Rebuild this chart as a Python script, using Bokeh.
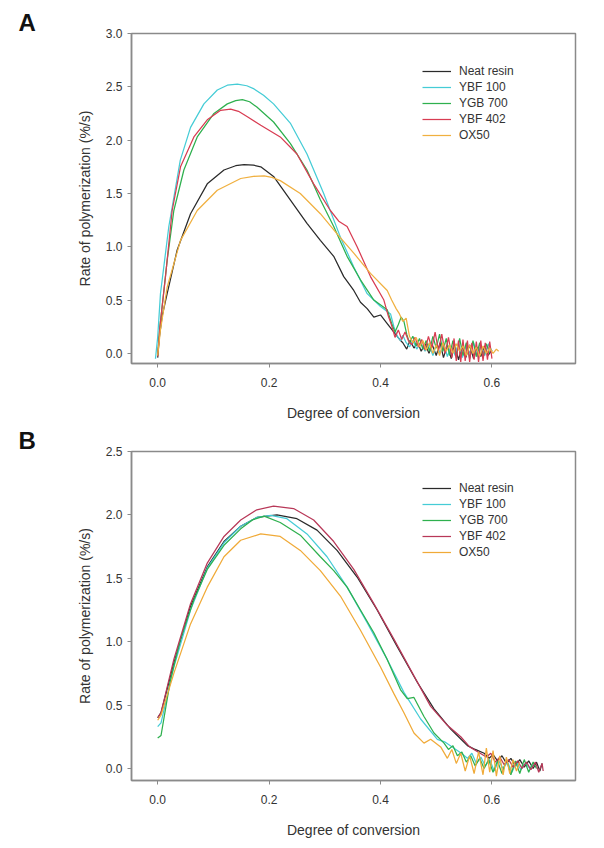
from bokeh.plotting import figure
from bokeh.layouts import column
from bokeh.models import FixedTicker, Legend, LegendItem, Title, NumeralTickFormatter, Range1d
from bokeh.embed import file_html
from bokeh.resources import INLINE

series_names = ["Neat resin", "YBF 100", "YGB 700", "YBF 402", "OX50"]
x_ticks = [0.0, 0.2, 0.4, 0.6]
y_ticks_a = [0.0, 0.5, 1.0, 1.5, 2.0, 2.5, 3.0]
y_ticks_b = [0.0, 0.5, 1.0, 1.5, 2.0, 2.5]

# ---------------- Panel A ----------------
a_neat_x = [0.0, 0.003, 0.008, 0.017, 0.035, 0.059, 0.089, 0.119, 0.14, 0.155, 0.172, 0.185, 0.208, 0.238, 0.268,
            0.292, 0.316, 0.334, 0.352, 0.364, 0.376, 0.388, 0.40, 0.412, 0.424, 0.436,
            0.44, 0.447, 0.453, 0.46, 0.467, 0.473, 0.48, 0.487, 0.493, 0.5, 0.507, 0.513, 0.52, 0.527, 0.533,
            0.54, 0.547, 0.553, 0.56, 0.567, 0.573, 0.58, 0.587, 0.593, 0.6]
a_neat_y = [-0.04, 0.15, 0.35, 0.56, 0.97, 1.31, 1.59, 1.72, 1.76, 1.77, 1.765, 1.75, 1.66, 1.44, 1.22,
            1.06, 0.91, 0.72, 0.59, 0.48, 0.42, 0.34, 0.36, 0.28, 0.20, 0.12,
            0.10, 0.04, 0.12, 0.05, 0.10, 0.02, 0.09, 0.0, 0.08, -0.02, 0.10, -0.04, 0.08, -0.05, 0.09,
            -0.06, 0.07, -0.04, 0.08, -0.05, 0.06, -0.03, 0.07, -0.02, 0.03]

a_ybf100_x = [-0.004, 0.0, 0.005, 0.02, 0.0405, 0.059, 0.083, 0.107, 0.125, 0.143, 0.16, 0.173, 0.19, 0.208, 0.238,
              0.268, 0.298, 0.328, 0.352, 0.376, 0.40, 0.418, 0.424, 0.43, 0.436, 0.44, 0.446, 0.452, 0.458,
              0.465, 0.472, 0.48, 0.487, 0.494, 0.5, 0.507, 0.514, 0.52, 0.527, 0.534, 0.54, 0.547, 0.554,
              0.56, 0.567, 0.574, 0.58, 0.587, 0.594, 0.6]
a_ybf100_y = [-0.05, 0.15, 0.56, 1.19, 1.81, 2.12, 2.34, 2.47, 2.515, 2.525, 2.51, 2.48, 2.42, 2.34, 2.16,
              1.87, 1.50, 1.09, 0.81, 0.56, 0.44, 0.37, 0.25, 0.16, 0.12, 0.17, 0.10, 0.06, 0.12,
              0.04, 0.10, 0.02, 0.09, -0.02, 0.08, 0.0, 0.09, -0.03, 0.07, -0.02, 0.10, -0.04, 0.08,
              0.0, 0.10, -0.03, 0.08, -0.02, 0.09, 0.02]

a_ygb700_x = [0.0, 0.004, 0.017, 0.029, 0.047, 0.071, 0.101, 0.125, 0.14, 0.152, 0.165, 0.178, 0.208, 0.238,
              0.268, 0.292, 0.316, 0.34, 0.364, 0.388, 0.412, 0.42, 0.426, 0.432, 0.437, 0.442, 0.447, 0.452,
              0.458, 0.464, 0.47, 0.476, 0.482, 0.488, 0.494, 0.5, 0.506, 0.512, 0.518, 0.524, 0.53, 0.536,
              0.542, 0.548, 0.554, 0.56, 0.566, 0.572, 0.578, 0.584, 0.59, 0.596]
a_ygb700_y = [-0.02, 0.25, 0.87, 1.34, 1.72, 2.03, 2.25, 2.34, 2.37, 2.38, 2.36, 2.31, 2.17, 1.97,
              1.72, 1.44, 1.19, 0.91, 0.69, 0.50, 0.41, 0.28, 0.20, 0.27, 0.34, 0.30, 0.18, 0.10,
              0.16, 0.07, 0.14, 0.04, 0.12, 0.02, 0.16, 0.05, 0.18, 0.02, 0.14, -0.02, 0.12, -0.04,
              0.14, -0.02, 0.10, -0.05, 0.12, -0.03, 0.10, -0.04, 0.09, 0.0]

a_ybf402_x = [0.0, 0.004, 0.014, 0.026, 0.041, 0.065, 0.089, 0.113, 0.131, 0.145, 0.161, 0.185, 0.22, 0.25,
              0.28, 0.31, 0.325, 0.34, 0.358, 0.382, 0.406, 0.414, 0.42, 0.426, 0.432, 0.438, 0.444, 0.45,
              0.456, 0.462, 0.468, 0.474, 0.48, 0.486, 0.492, 0.498, 0.504, 0.51, 0.516, 0.522, 0.528,
              0.532, 0.536, 0.54, 0.544, 0.548, 0.552, 0.556, 0.56, 0.564, 0.568, 0.572, 0.576, 0.58,
              0.584, 0.588, 0.592, 0.596, 0.6]
a_ybf402_y = [-0.03, 0.25, 0.72, 1.34, 1.75, 2.03, 2.19, 2.28, 2.29, 2.27, 2.22, 2.14, 2.03, 1.87,
              1.59, 1.34, 1.24, 1.19, 1.0, 0.72, 0.50, 0.35, 0.26, 0.15, 0.22, 0.13, 0.20, 0.12,
              0.08, 0.15, 0.06, 0.13, 0.03, 0.16, 0.05, 0.20, 0.02, 0.18, 0.0, 0.15, -0.04,
              0.14, -0.07, 0.12, -0.08, 0.13, -0.07, 0.12, -0.08, 0.10, -0.06, 0.11, -0.08, 0.12,
              -0.07, 0.10, -0.06, 0.11, -0.05]

a_ox50_x = [0.0, 0.005, 0.017, 0.041, 0.071, 0.107, 0.149, 0.172, 0.191, 0.205, 0.22, 0.256, 0.292, 0.322,
            0.352, 0.382, 0.412, 0.42, 0.428, 0.434, 0.44, 0.446, 0.452, 0.458, 0.464, 0.47, 0.476, 0.482,
            0.488, 0.494, 0.5, 0.506, 0.512, 0.518, 0.524, 0.53, 0.536, 0.542, 0.548, 0.554, 0.56, 0.566,
            0.572, 0.578, 0.584, 0.59, 0.596, 0.602, 0.608, 0.612]
a_ox50_y = [-0.02, 0.22, 0.62, 1.06, 1.34, 1.53, 1.64, 1.66, 1.665, 1.65, 1.62, 1.50, 1.31, 1.12,
            0.94, 0.75, 0.59, 0.50, 0.42, 0.37, 0.30, 0.33, 0.16, 0.10, 0.15, 0.06, 0.12, 0.03,
            0.10, 0.0, 0.08, -0.02, 0.10, 0.02, 0.08, 0.0, 0.09, 0.02, 0.07, -0.02, 0.08, 0.0,
            0.06, -0.03, 0.07, 0.0, 0.05, 0.0, 0.04, 0.02]

# ---------------- Panel B ----------------
b_neat_x = [0.0, 0.006, 0.029, 0.059, 0.089, 0.119, 0.149, 0.178, 0.214, 0.25, 0.286, 0.322, 0.358, 0.394,
            0.43, 0.466, 0.496, 0.526, 0.54, 0.556, 0.57, 0.586, 0.595, 0.602, 0.61, 0.618, 0.626, 0.634,
            0.642, 0.65, 0.658, 0.666, 0.674, 0.68, 0.686, 0.69]
b_neat_y = [0.40, 0.44, 0.83, 1.28, 1.59, 1.79, 1.91, 1.98, 2.0, 1.97, 1.88, 1.72, 1.51, 1.25,
            0.96, 0.68, 0.47, 0.31, 0.25, 0.18, 0.15, 0.12, 0.08, 0.11, 0.06, 0.10, 0.04, 0.08,
            0.02, 0.07, 0.01, 0.06, 0.0, 0.05, -0.02, 0.04]

b_ybf100_x = [0.0, 0.006, 0.029, 0.059, 0.089, 0.119, 0.149, 0.178, 0.203, 0.232, 0.268, 0.304, 0.34, 0.376,
              0.412, 0.442, 0.472, 0.502, 0.515, 0.532, 0.545, 0.556, 0.564, 0.572, 0.58, 0.588, 0.596,
              0.604, 0.612, 0.62, 0.628, 0.636, 0.644, 0.652, 0.66, 0.668, 0.674]
b_ybf100_y = [0.33, 0.36, 0.80, 1.25, 1.58, 1.78, 1.91, 1.98, 1.996, 1.97, 1.85, 1.67, 1.43, 1.15,
              0.86, 0.60, 0.39, 0.23, 0.21, 0.16, 0.12, 0.08, 0.12, 0.04, 0.09, 0.02, 0.07,
              -0.02, 0.06, 0.0, 0.05, -0.03, 0.05, -0.01, 0.04, 0.0, 0.03]

b_ygb700_x = [0.0, 0.006, 0.023, 0.041, 0.065, 0.089, 0.119, 0.149, 0.17, 0.191, 0.22, 0.256, 0.292, 0.316,
              0.34, 0.364, 0.388, 0.412, 0.436, 0.448, 0.46, 0.478, 0.496, 0.514, 0.522, 0.53, 0.538,
              0.546, 0.554, 0.562, 0.57, 0.578, 0.586, 0.594, 0.602, 0.61, 0.618, 0.626, 0.634, 0.642,
              0.65, 0.658, 0.666, 0.674, 0.68]
b_ygb700_y = [0.24, 0.26, 0.70, 1.02, 1.33, 1.57, 1.76, 1.89, 1.96, 1.99, 1.94, 1.84, 1.67, 1.56,
              1.43, 1.25, 1.07, 0.86, 0.62, 0.55, 0.56, 0.41, 0.28, 0.20, 0.15, 0.18, 0.10,
              0.13, 0.05, 0.10, 0.02, 0.08, 0.0, 0.07, -0.03, 0.06, -0.04, 0.07, -0.05, 0.06,
              -0.04, 0.07, -0.03, 0.05, 0.0]

b_ybf402_x = [0.0, 0.006, 0.029, 0.059, 0.089, 0.119, 0.149, 0.178, 0.208, 0.244, 0.28, 0.316, 0.352, 0.388,
              0.424, 0.46, 0.49, 0.52, 0.544, 0.56, 0.575, 0.59, 0.598, 0.606, 0.614, 0.622, 0.63, 0.638,
              0.646, 0.654, 0.662, 0.67, 0.678, 0.684, 0.69, 0.692]
b_ybf402_y = [0.40, 0.44, 0.86, 1.30, 1.62, 1.83, 1.96, 2.04, 2.07, 2.05, 1.96, 1.79, 1.57, 1.30,
              1.02, 0.73, 0.49, 0.34, 0.25, 0.17, 0.13, 0.09, 0.12, 0.05, 0.09, 0.03, 0.07, 0.01,
              0.06, 0.0, 0.05, -0.01, 0.05, -0.03, 0.04, -0.02]

b_ox50_x = [0.0, 0.006, 0.029, 0.059, 0.089, 0.119, 0.149, 0.185, 0.22, 0.256, 0.292, 0.328, 0.364, 0.40,
            0.424, 0.442, 0.46, 0.478, 0.49, 0.508, 0.52, 0.528, 0.536, 0.544, 0.552, 0.56, 0.568, 0.576,
            0.584, 0.59, 0.596, 0.602, 0.608, 0.614, 0.62, 0.626, 0.632, 0.638, 0.644, 0.65]
b_ox50_y = [0.38, 0.42, 0.75, 1.14, 1.43, 1.67, 1.80, 1.85, 1.83, 1.72, 1.56, 1.36, 1.09, 0.80,
            0.59, 0.44, 0.28, 0.20, 0.23, 0.17, 0.08, 0.15, 0.04, 0.12, -0.02, 0.10, -0.04, 0.13,
            -0.05, 0.16, -0.03, 0.14, -0.06, 0.10, -0.05, 0.09, -0.04, 0.07, -0.02, 0.05]

colors_a = ["#2a2a2a", "#45ccd6", "#2eb04e", "#d83c52", "#f0b040"]
colors_b = ["#2a2a2a", "#45ccd6", "#2eb04e", "#b83858", "#f0aa38"]

FONT = "Liberation Sans"
TXT = "#333333"
GRAY = "#8a8a8a"


def make_panel(letter, xs, ys, colors, y_end, y_ticks, height, border_top, border_bottom):
    p = figure(width=596, height=height, output_backend="svg", toolbar_location=None,
               x_range=Range1d(-0.047, 0.75), y_range=Range1d(-0.095, y_end),
               min_border_left=131, min_border_right=21,
               min_border_top=border_top, min_border_bottom=border_bottom)
    p.xgrid.visible = False
    p.ygrid.visible = False
    p.outline_line_color = GRAY
    p.outline_line_width = 1.5
    p.background_fill_color = "white"
    p.border_fill_color = "white"

    p.xaxis.ticker = FixedTicker(ticks=x_ticks)
    p.yaxis.ticker = FixedTicker(ticks=y_ticks)
    for ax in (p.xaxis, p.yaxis):
        ax.formatter = NumeralTickFormatter(format="0.0")
        ax.axis_line_color = GRAY
        ax.axis_line_width = 1.5
        ax.major_tick_line_color = GRAY
        ax.major_tick_out = 4
        ax.major_tick_in = 0
        ax.minor_tick_line_color = None
        ax.major_label_text_font = FONT
        ax.major_label_text_font_size = "12px"
        ax.major_label_text_color = TXT
        ax.axis_label_text_font = FONT
        ax.axis_label_text_font_size = "14px"
        ax.axis_label_text_font_style = "normal"
        ax.axis_label_text_color = TXT
    p.xaxis.axis_label = "Degree of conversion"
    p.yaxis.axis_label = "Rate of polymerization (%/s)"
    p.xaxis.major_label_standoff = 10
    p.yaxis.major_label_standoff = 5
    p.xaxis.axis_label_standoff = 15
    p.yaxis.axis_label_standoff = 10

    items = []
    for name, x, y, c in zip(series_names, xs, ys, colors):
        r = p.line(x, y, line_color=c, line_width=1.25)
        items.append(LegendItem(label=name, renderers=[r]))

    legend = Legend(items=items, location=(291, 220), border_line_color=None,
                    background_fill_alpha=0, padding=0, margin=0, spacing=0,
                    glyph_width=29, glyph_height=16, label_height=16, label_standoff=8,
                    label_text_font=FONT, label_text_font_size="12px", label_text_color=TXT)
    p.add_layout(legend, "center")

    p.add_layout(Title(text=letter, align="left", offset=-113, standoff=-4,
                       text_font=FONT, text_font_size="24px", text_font_style="bold",
                       text_color="#111111"), "above")
    return p


pa = make_panel("A",
                [a_neat_x, a_ybf100_x, a_ygb700_x, a_ybf402_x, a_ox50_x],
                [a_neat_y, a_ybf100_y, a_ygb700_y, a_ybf402_y, a_ox50_y],
                colors_a, 3.0, y_ticks_a, 424, 33, 61)
pb = make_panel("B",
                [b_neat_x, b_ybf100_x, b_ygb700_x, b_ybf402_x, b_ox50_x],
                [b_neat_y, b_ybf100_y, b_ygb700_y, b_ybf402_y, b_ox50_y],
                colors_b, 2.5, y_ticks_b, 416, 27, 58)

layout = column(pa, pb, spacing=0)
open("out.html", "w").write(file_html(layout, INLINE))
